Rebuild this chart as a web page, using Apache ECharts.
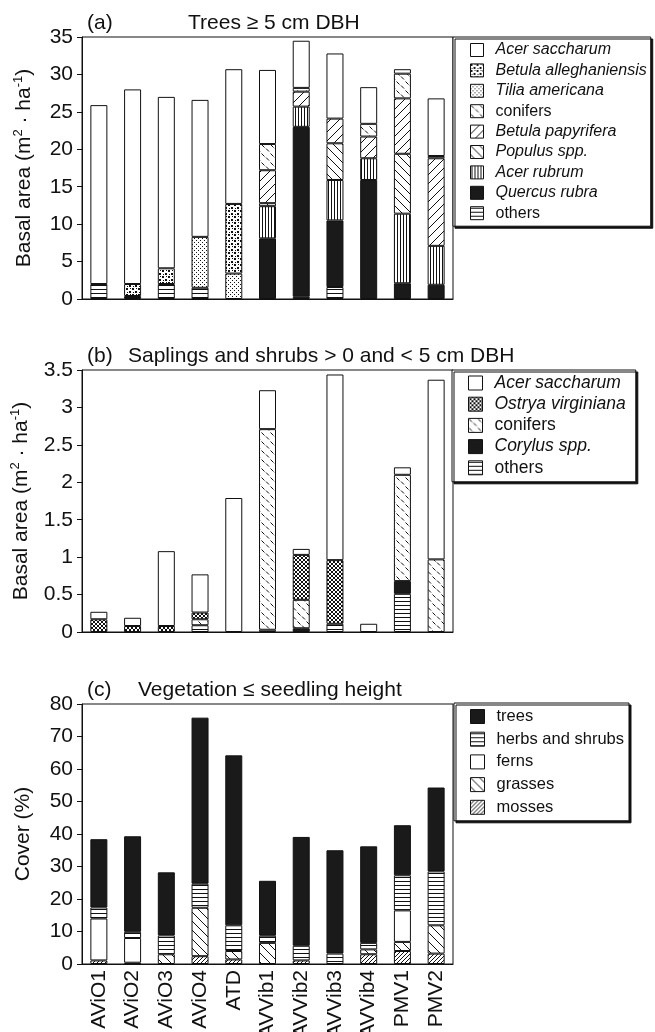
<!DOCTYPE html>
<html>
<head>
<meta charset="utf-8">
<script src="https://cdn.jsdelivr.net/npm/echarts@6/dist/echarts.min.js"></script>
<style>
  html, body { margin: 0; padding: 0; background: #fff; }
  #chart { width: 655px; height: 1032px; }
</style>
</head>
<body>
<div id="chart"></div>
<script>
const categories = ['AViO1', 'AViO2', 'AViO3', 'AViO4', 'ATD', 'AVVib1', 'AVVib2', 'AVVib3', 'AVVib4', 'PMV1', 'PMV2'];

// (a) Trees >= 5 cm DBH, basal area (m2/ha) of each stacked component, bottom to top
const treeOthers       = [2.0, 0.4, 2.0, 1.5, 0,   0,   0.3,  1.6, 0,    0,   0];
const quercusRubra     = [0,   0,   0,   0,   0,   8.1, 22.7, 8.9, 15.9, 2.1, 1.9];
const acerRubrum       = [0,   0,   0,   0,   0,   4.3, 2.7,  5.4, 2.9,  9.3, 5.2];
const populusSpp       = [0,   0,   0,   0,   0,   0.4, 0,    4.9, 0,    8.0, 0];
const betulaPapyrifera = [0,   0,   0,   0,   0,   4.4, 2.0,  3.3, 2.9,  7.4, 11.7];
const treeConifers     = [0,   0,   0,   0,   0,   3.5, 0.5,  0,   1.7,  3.3, 0.3];
const tiliaAmericana   = [0,   0,   0,   6.8, 3.4, 0,   0,    0,   0,    0,   0];
const betulaAllegh     = [0,   1.6, 2.1, 0,   9.3, 0,   0,    0,   0,    0,   0];
const treeAcerSacch    = [23.9, 26.0, 22.9, 18.3, 18.0, 9.9, 6.3, 8.7, 4.9, 0.6, 7.7];

// (b) Saplings and shrubs, basal area (m2/ha)
const saplingOthers    = [0,    0,    0,    0.09, 0,    0.03, 0,    0.11, 0,    0.51, 0];
const corylusSpp       = [0,    0,    0,    0,    0,    0,    0.05, 0,    0,    0.17, 0];
const saplingConifers  = [0,    0,    0,    0.08, 0,    2.68, 0.38, 0,    0,    1.42, 0.97];
const ostryaVirginiana = [0.17, 0.08, 0.08, 0.09, 0,    0,    0.60, 0.85, 0,    0,    0];
const saplingAcerSacch = [0.10, 0.11, 1.00, 0.51, 1.79, 0.52, 0.08, 2.48, 0.11, 0.10, 2.40];

// (c) Vegetation <= seedling height, cover (%)
const mosses     = [1.1,  0.4,  0,    2.4,  1.4,  0,    1.1,  0,    3.0,  4.0,  3.2];
const grasses    = [0,    0,    3.0,  14.9, 2.6,  6.5,  0,    0,    1.5,  2.8,  8.7];
const ferns      = [12.9, 7.6,  0,    0,    0,    0,    0,    0,    0,    9.7,  0];
const herbs      = [3.4,  1.9,  5.8,  7.4,  7.9,  2.2,  4.5,  3.2,  2.0,  10.8, 16.6];
const treesCover = [21.0, 29.4, 19.4, 51.1, 52.3, 16.9, 33.5, 31.8, 29.7, 15.4, 25.8];

const FONT = "'Liberation Sans', Arial, Helvetica, sans-serif";
const INK = '#111';

// ---- hatch fills built on small canvases ----
function tile(size, draw) {
  const c = document.createElement('canvas');
  c.width = size; c.height = size;
  const ctx = c.getContext('2d');
  ctx.fillStyle = '#fff';
  ctx.fillRect(0, 0, size, size);
  ctx.fillStyle = INK;
  ctx.strokeStyle = INK;
  ctx.lineWidth = 1;
  draw(ctx, size);
  return { image: c, repeat: 'repeat' };
}
function diag(ctx, s, forward) {
  ctx.beginPath();
  if (forward) {
    ctx.moveTo(0, s); ctx.lineTo(s, 0);
    ctx.moveTo(-1, 1); ctx.lineTo(1, -1);
    ctx.moveTo(s - 1, s + 1); ctx.lineTo(s + 1, s - 1);
  } else {
    ctx.moveTo(0, 0); ctx.lineTo(s, s);
    ctx.moveTo(s - 1, -1); ctx.lineTo(s + 1, 1);
    ctx.moveTo(-1, s - 1); ctx.lineTo(1, s + 1);
  }
  ctx.stroke();
}
const FILL = {
  white: '#ffffff',
  black: '#1a1a1a',
  hLines: tile(4, (ctx, s) => ctx.fillRect(0, 1, s, 1)),
  vLines: tile(3, (ctx, s) => ctx.fillRect(1, 0, 1, s)),
  slash: tile(9, (ctx, s) => diag(ctx, s, true)),
  backslash: tile(9, (ctx, s) => diag(ctx, s, false)),
  denseSlash: tile(4, (ctx, s) => diag(ctx, s, true)),
  denseDots: tile(6, (ctx) => {
    ctx.fillRect(0, 0, 2, 2); ctx.fillRect(3, 3, 2, 2);
    ctx.fillRect(4, 0, 1, 1); ctx.fillRect(1, 4, 1, 1);
  }),
  sparseDots: tile(4, (ctx) => { ctx.fillRect(0, 0, 1, 1); ctx.fillRect(2, 2, 1, 1); }),
  dashes: tile(9, (ctx) => {
    ctx.beginPath();
    ctx.moveTo(0.5, 0.5); ctx.lineTo(3.5, 3.5);
    ctx.moveTo(5, 4.5); ctx.lineTo(8, 7.5);
    ctx.stroke();
  }),
  crossHatch: tile(4, (ctx, s) => { diag(ctx, s, true); diag(ctx, s, false); })
};

const italicNames = new Set([
  'Acer saccharum', 'Betula alleghaniensis', 'Tilia americana', 'Betula papyrifera',
  'Populus spp.', 'Acer rubrum', 'Quercus rubra', 'Ostrya virginiana', 'Corylus spp.'
]);

function stacked(name, values, fill, idx) {
  return {
    type: 'bar',
    name: name,
    stack: 'panel' + idx,
    xAxisIndex: idx,
    yAxisIndex: idx,
    barWidth: 17,
    data: values.map(v => (v === 0 ? '-' : v)),
    itemStyle: { color: fill, borderColor: INK, borderWidth: 1 },
    emphasis: { disabled: true }
  };
}

// series listed bottom of the stack first
const panelA = [
  ['others', treeOthers, FILL.hLines],
  ['Quercus rubra', quercusRubra, FILL.black],
  ['Acer rubrum', acerRubrum, FILL.vLines],
  ['Populus spp.', populusSpp, FILL.backslash],
  ['Betula papyrifera', betulaPapyrifera, FILL.slash],
  ['conifers', treeConifers, FILL.dashes],
  ['Tilia americana', tiliaAmericana, FILL.sparseDots],
  ['Betula alleghaniensis', betulaAllegh, FILL.denseDots],
  ['Acer saccharum', treeAcerSacch, FILL.white]
];
const panelB = [
  ['others', saplingOthers, FILL.hLines],
  ['Corylus spp.', corylusSpp, FILL.black],
  ['conifers', saplingConifers, FILL.dashes],
  ['Ostrya virginiana', ostryaVirginiana, FILL.crossHatch],
  ['Acer saccharum', saplingAcerSacch, FILL.white]
];
const panelC = [
  ['mosses', mosses, FILL.denseSlash],
  ['grasses', grasses, FILL.backslash],
  ['ferns', ferns, FILL.white],
  ['herbs and shrubs', herbs, FILL.hLines],
  ['trees', treesCover, FILL.black]
];

const series = [];
[panelA, panelB, panelC].forEach((panel, idx) => {
  panel.forEach(([name, values, fill]) => series.push(stacked(name, values, fill, idx)));
});

const grids = [
  { left: 82, width: 371, top: 37, height: 262 },
  { left: 82, width: 371, top: 370, height: 262 },
  { left: 82, width: 371, top: 704, height: 260 }
].map(g => Object.assign(g, {
  show: true, borderColor: INK, borderWidth: 1, backgroundColor: 'transparent',
  containLabel: false, outerBoundsMode: 'none'
}));

const xAxes = [0, 1, 2].map(i => ({
  type: 'category',
  gridIndex: i,
  data: categories,
  axisLine: { lineStyle: { color: INK, width: 1 } },
  axisTick: { show: false },
  axisLabel: i === 2
    ? { show: true, rotate: 90, interval: 0, margin: 6, fontSize: 21, fontFamily: FONT, color: INK }
    : { show: false }
}));

const supRich = { sup: { fontSize: 13, fontFamily: FONT, color: INK, verticalAlign: 'top', lineHeight: 13 } };
function yAxis(i, max, interval, name, gap) {
  return {
    type: 'value',
    gridIndex: i,
    min: 0,
    max: max,
    interval: interval,
    name: name,
    nameLocation: 'middle',
    nameGap: gap,
    nameTextStyle: { fontSize: 21, fontFamily: FONT, color: INK, lineHeight: 24, rich: supRich },
    axisLine: { show: true, lineStyle: { color: INK, width: 1 } },
    axisTick: { show: true, inside: false, length: 5, lineStyle: { color: INK } },
    axisLabel: { fontSize: 21, fontFamily: FONT, color: INK, margin: 9 },
    splitLine: { show: false }
  };
}
const yAxes = [
  yAxis(0, 35, 5, 'Basal area (m{sup|2} · ha{sup|-1})', 46),
  yAxis(1, 3.5, 0.5, 'Basal area (m{sup|2} · ha{sup|-1})', 46),
  yAxis(2, 80, 10, 'Cover (%)', 47)
];

function legend(panel, left, top, fontSize, icon, gap, padding) {
  return {
    orient: 'vertical',
    left: left,
    top: top,
    data: panel.map(p => p[0]).reverse(),
    selectedMode: false,
    icon: 'rect',
    itemWidth: icon,
    itemHeight: icon,
    itemGap: gap,
    padding: padding,
    backgroundColor: '#fff',
    borderColor: INK,
    borderWidth: 1,
    shadowColor: INK,
    shadowBlur: 0,
    shadowOffsetX: 2,
    shadowOffsetY: 2,
    itemStyle: { borderWidth: 1, borderColor: INK },
    formatter: n => (italicNames.has(n) ? '{i|' + n + '}' : n),
    textStyle: {
      fontSize: fontSize, fontFamily: FONT, color: INK, lineHeight: fontSize,
      padding: [0, 0, 0, 7],
      rich: { i: { fontStyle: 'italic', fontSize: fontSize, fontFamily: FONT, color: INK } }
    }
  };
}

const titleStyle = { fontSize: 21, fontWeight: 'normal', fontFamily: FONT, color: INK };
const titles = [
  ['(a)', 87, 13], ['Trees ≥ 5 cm DBH', 188, 13],
  ['(b)', 87, 346], ['Saplings and shrubs > 0 and < 5 cm DBH', 128, 346],
  ['(c)', 87, 680], ['Vegetation ≤ seedling height', 138, 680]
].map(([text, left, top]) => ({ text, left, top, padding: 0, textStyle: titleStyle }));

const chart = echarts.init(document.getElementById('chart'), null, { renderer: 'canvas' });
chart.setOption({
  animation: false,
  backgroundColor: '#fff',
  title: titles,
  grid: grids,
  xAxis: xAxes,
  yAxis: yAxes,
  legend: [
    legend(panelA, 453, 37, 16, 13, 4.4, [5, 4, 5, 17]),
    legend(panelB, 452, 370, 17.5, 14, 3.2, [4, 10, 5, 16]),
    legend(panelC, 454, 703, 16.5, 14, 5.7, [5, 5, 5, 16])
  ],
  series: series
});
</script>
</body>
</html>
